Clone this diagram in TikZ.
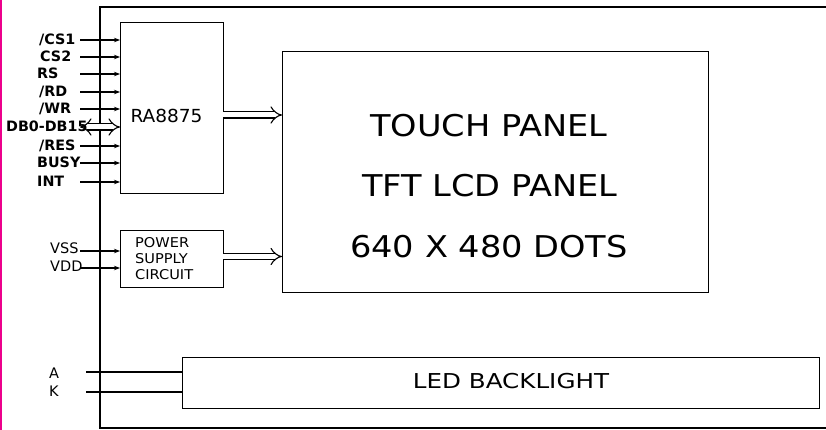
\documentclass[tikz,border=0pt]{standalone}
\usepackage{fontspec}
\setmainfont{DejaVu Sans}
\usetikzlibrary{arrows.meta}
\begin{document}
\begin{tikzpicture}[x=1pt,y=-1pt,
  blk/.style={draw,line width=1.3pt,anchor=north west,inner sep=0pt},
  sig/.style={line width=1.1pt,-{Stealth[length=6pt,width=4.5pt]}},
  bus/.style={line width=1.1pt,double,double distance=5pt,-{Implies}},
  plain/.style={line width=1.1pt},
  lbl/.style={anchor=base west,inner sep=0pt,font=\bfseries\fontsize{14.3}{15}\selectfont},
  vlbl/.style={anchor=base west,inner sep=0pt,font=\fontsize{14.5}{15}\selectfont},
  big/.style={anchor=base,inner sep=0pt,font=\fontsize{30}{32}\selectfont}]
\useasboundingbox (0,0) rectangle (826,430);
\fill[white] (0,0) rectangle (826,430);
\draw[magenta,line width=2pt] (1,0) -- (1,430);
% outer frame
\draw[line width=1.3pt] (826,7) -- (100,7) -- (100,428) -- (826,428);
% blocks
\node[blk,minimum width=103pt,minimum height=171pt] (ra) at (120,22) {};
\node[anchor=base,inner sep=0pt,font=\fontsize{18}{19}\selectfont] (ratxt) at (166.5,123) {\scalebox{1.03}[1]{RA8875}};
\node[blk,minimum width=426pt,minimum height=241pt] (panel) at (282,51) {};
\node[big] (t1) at (489,137) {\scalebox{1.12}[1]{TOUCH PANEL}};
\node[big] (t2) at (490,197) {\scalebox{1.12}[1]{TFT LCD PANEL}};
\node[big] (t3) at (489,257) {\scalebox{1.12}[1]{640 X 480 DOTS}};
\node[blk,minimum width=103pt,minimum height=57pt] (pw) at (120,230) {};
\node[anchor=base west,inner sep=0pt,font=\fontsize{13.5}{14}\selectfont] (p1) at (135,247) {\scalebox{1.08}[1]{POWER}};
\node[anchor=base west,inner sep=0pt,font=\fontsize{13.5}{14}\selectfont] (p2) at (135,263) {\scalebox{1.08}[1]{SUPPLY}};
\node[anchor=base west,inner sep=0pt,font=\fontsize{13.5}{14}\selectfont] (p3) at (135,279) {\scalebox{1.08}[1]{CIRCUIT}};
\node[blk,minimum width=637pt,minimum height=51pt] (led) at (182,357) {};
\node[anchor=base,inner sep=0pt,font=\fontsize{20.5}{22}\selectfont] (ledtxt) at (511,388) {\scalebox{1.2}[1]{LED BACKLIGHT}};
% signal labels
\node[lbl] (cs1) at (39,45) {/CS1};
\node[lbl] (cs2) at (40,62) {CS2};
\node[lbl] (rs) at (37,79) {RS};
\node[lbl] (rd) at (39,97) {/RD};
\node[lbl] (wr) at (39,114) {/WR};
\node[lbl] (db) at (6,132) {DB0-DB15};
\node[lbl] (res) at (39,151) {/RES};
\node[lbl] (busy) at (37,168) {BUSY};
\node[lbl] (int) at (37,187) {INT};
\coordinate (scs1) at (80,40);
\coordinate (scs2) at (80,57);
\coordinate (srs) at (80,74);
\coordinate (srd) at (80,92);
\coordinate (swr) at (80,109);
\coordinate (sdb) at (80,127);
\coordinate (sres) at (80,146);
\coordinate (sbusy) at (80,163);
\coordinate (sint) at (80,182);
\foreach \s in {scs1,scs2,srs,srd,swr,sres,sbusy,sint}
  \draw[sig] (\s) -- (\s -| ra.west);
\draw[line width=1.1pt,double,double distance=5pt,{Implies}-{Implies}] (sdb) -- (sdb -| ra.west);
% buses to panel
\coordinate (raout) at (223,115);
\draw[bus] (raout) -- (raout -| panel.west);
\coordinate (pwout) at (223,256.5);
\draw[bus] (pwout) -- (pwout -| panel.west);
% power inputs
\node[vlbl] (vss) at (50,253) {VSS};
\node[vlbl] (vdd) at (50,271) {VDD};
\coordinate (svss) at (80,251);
\coordinate (svdd) at (80,268);
\draw[sig] (svss) -- (svss -| pw.west);
\draw[sig] (svdd) -- (svdd -| pw.west);
% backlight
\node[vlbl] (la) at (49,378) {A};
\node[vlbl] (lk) at (49,396) {K};
\coordinate (sa) at (86,372);
\coordinate (sk) at (86,392);
\draw[plain] (sa) -- (sa -| led.west);
\draw[plain] (sk) -- (sk -| led.west);
\end{tikzpicture}
\end{document}
